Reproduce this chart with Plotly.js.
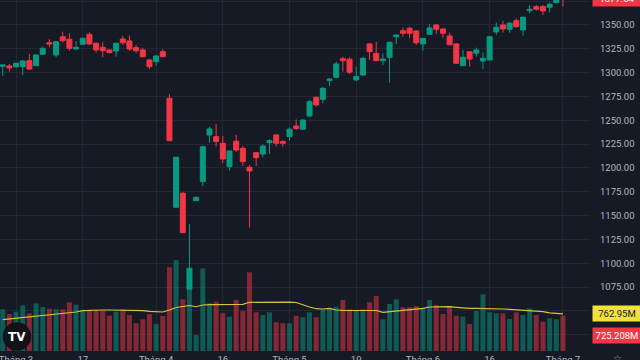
<!DOCTYPE html>
<html>
<head>
<meta charset="utf-8">
<script src="https://cdn.plot.ly/plotly-3.0.1.min.js"></script>
<style>
html,body{margin:0;padding:0;background:#161a25;}
#chart{width:640px;height:360px;}
</style>
</head>
<body>
<div id="chart"></div>
<script>
const dates = [
"2025-02-27","2025-02-28","2025-03-03","2025-03-04","2025-03-05","2025-03-06","2025-03-07",
"2025-03-10","2025-03-11","2025-03-12","2025-03-13","2025-03-14",
"2025-03-17","2025-03-18","2025-03-19","2025-03-20","2025-03-21",
"2025-03-24","2025-03-25","2025-03-26","2025-03-27","2025-03-28",
"2025-03-31","2025-04-01","2025-04-02","2025-04-03","2025-04-04",
"2025-04-08","2025-04-09","2025-04-10","2025-04-11",
"2025-04-14","2025-04-15","2025-04-16","2025-04-17","2025-04-18",
"2025-04-21","2025-04-22","2025-04-23","2025-04-24","2025-04-25",
"2025-04-28","2025-04-29",
"2025-05-05","2025-05-06","2025-05-07","2025-05-08","2025-05-09",
"2025-05-12","2025-05-13","2025-05-14","2025-05-15","2025-05-16",
"2025-05-19","2025-05-20","2025-05-21","2025-05-22","2025-05-23",
"2025-05-26","2025-05-27","2025-05-28","2025-05-29","2025-05-30",
"2025-06-02","2025-06-03","2025-06-04","2025-06-05","2025-06-06",
"2025-06-09","2025-06-10","2025-06-11","2025-06-12","2025-06-13",
"2025-06-16","2025-06-17","2025-06-18","2025-06-19","2025-06-20",
"2025-06-23","2025-06-24","2025-06-25","2025-06-26","2025-06-27",
"2025-06-30","2025-07-01"
];

const openP = [1306.7,1307.0,1306.2,1306.2,1312.5,1307.3,1319.3,1331.4,1318.5,1337.7,
1335.0,1324.8,1329.7,1340.2,1330.8,1326.6,1323.8,1322.7,1335.3,1333.2,
1326.2,1323.8,1313.3,1311.5,1322.0,1273.1,1158.7,1173.4,1072.7,1165.6,
1185.6,1234.6,1232.8,1225.9,1201.3,1228.0,1220.6,1200.7,1216.0,1214.6,
1226.5,1234.6,1227.6,1232.8,1244.0,1240.6,1254.5,1274.1,1272.0,1291.6,
1295.1,1314.6,1314.0,1292.3,1297.5,1330.1,1320.3,1312.5,1316.1,1337.7,
1344.0,1346.5,1343.7,1330.1,1340.2,1350.0,1345.8,1338.5,1330.1,1307.3,
1322.0,1320.3,1312.2,1313.3,1342.7,1350.0,1345.5,1354.5,1344.8,1365.0,
1369.2,1369.2,1368.6,1373.5,1382.0];

const highP = [1308.3,1309.0,1310.5,1313.3,1319.6,1319.0,1327.3,1335.0,1332.5,1343.0,
1341.3,1333.2,1336.7,1342.3,1331.8,1332.2,1324.5,1331.8,1338.5,1338.8,
1329.0,1326.2,1314.0,1317.5,1324.5,1277.6,1211.5,1174.5,1141.2,1169.2,
1222.5,1243.3,1246.0,1233.5,1218.0,1234.6,1223.0,1203.1,1216.5,1224.8,
1230.0,1235.0,1229.3,1242.6,1251.0,1251.0,1271.3,1274.8,1284.6,1294.1,
1311.5,1316.7,1316.1,1306.2,1316.7,1331.4,1332.5,1320.3,1332.5,1339.8,
1347.6,1348.2,1344.8,1336.3,1351.0,1351.0,1346.9,1342.0,1330.8,1323.8,
1322.3,1326.2,1321.0,1338.5,1352.4,1354.2,1353.5,1357.0,1358.7,1371.0,
1371.0,1371.0,1373.4,1380.0,1385.0];

const lowP = [1296.5,1301.0,1305.0,1297.5,1302.8,1307.0,1318.5,1326.6,1316.1,1331.4,
1323.0,1323.8,1329.0,1329.0,1321.0,1316.1,1320.0,1316.7,1329.0,1323.0,
1320.3,1316.1,1303.8,1307.3,1316.1,1228.3,1158.0,1131.8,1072.5,1165.6,
1181.0,1226.5,1222.3,1204.9,1197.1,1217.0,1202.0,1137.3,1202.0,1210.8,
1214.6,1222.3,1222.3,1228.6,1239.8,1240.0,1253.2,1264.3,1267.8,1286.0,
1294.1,1301.0,1298.6,1291.2,1296.5,1313.3,1312.0,1308.0,1289.5,1330.0,
1337.7,1336.0,1329.0,1323.0,1339.5,1340.6,1336.0,1329.0,1309.0,1307.0,
1306.2,1316.7,1303.8,1313.0,1339.5,1341.9,1341.9,1347.2,1338.8,1362.3,
1365.0,1360.5,1362.9,1372.5,1369.4];

const closeP = [1308.0,1305.0,1309.8,1312.2,1303.8,1318.5,1325.5,1330.0,1332.5,1333.5,
1325.5,1326.6,1336.0,1330.0,1323.8,1323.0,1321.0,1330.8,1331.4,1324.8,
1323.0,1316.7,1306.2,1317.5,1316.7,1228.6,1211.2,1132.1,1094.7,1169.2,
1222.3,1240.9,1227.6,1209.4,1217.8,1218.8,1206.6,1196.8,1210.8,1223.0,
1228.6,1225.9,1225.9,1240.6,1241.4,1250.3,1269.5,1266.1,1283.6,1293.3,
1309.1,1312.5,1300.4,1295.8,1315.0,1322.0,1312.5,1314.3,1331.8,1339.5,
1341.3,1341.3,1331.4,1336.0,1346.9,1345.5,1341.3,1329.2,1309.8,1316.1,
1314.3,1323.8,1315.0,1337.7,1347.6,1345.8,1351.8,1348.2,1358.1,1366.5,
1366.5,1364.7,1371.7,1377.0,1377.64];

// volume in millions of shares
const volumeM = [857,760,808,939,775,980,904,869,857,857,
1001,951,843,828,828,828,725,808,857,740,
569,651,760,555,719,1720,1870,1062,1515,329,
1699,980,1013,775,705,1048,822,1617,795,740,
795,590,569,569,725,693,795,693,857,877,
910,1048,857,843,863,1001,1130,651,966,1062,
898,898,925,863,1048,945,760,925,725,705,
555,822,1165,795,775,775,658,795,740,877,
740,602,672,651,725.208];

// volume moving average (millions)
const volumeMA = [643,658,672,684,699,713,725,740,754,767,
781,801,828,836,843,843,843,843,843,843,
836,828,816,808,801,843,894,914,935,910,
945,951,951,956,960,960,960,1001,1003,1007,
1007,1007,1007,1003,997,945,904,869,863,877,
843,836,836,836,836,836,832,795,808,822,
828,843,857,877,904,910,910,910,898,884,
877,877,877,877,869,863,857,849,843,836,
822,808,785,775,762.95];

const tickDates = ["2025-03-03","2025-03-17","2025-04-01","2025-04-16","2025-05-05","2025-05-19","2025-06-02","2025-06-16","2025-07-01"];
const tickLabels = ["Tháng 3","17","Tháng 4","16","Tháng 5","19","Tháng 6","16","Tháng 7"];

const UP = '#089981', DOWN = '#f23645';
const volColors = closeP.map((c,i)=> c >= openP[i] ? 'rgba(8,153,129,0.5)' : 'rgba(242,54,69,0.5)');

const lastClose = closeP[closeP.length-1];
const lastVol = volumeM[volumeM.length-1];
const lastMA = volumeMA[volumeMA.length-1];

const priceRange = [1007.9, 1376.2];
const lastClosePaper = (lastClose - priceRange[0]) / (priceRange[1] - priceRange[0]);

const FONT = 'Roboto, "Noto Sans", sans-serif';
const TXT = '#b2b5be';
const GRID = '#232733';

const traces = [
  {
    type:'bar', x:dates, y:volumeM, yaxis:'y', xaxis:'x',
    marker:{color:volColors, line:{width:0}}, hoverinfo:'skip'
  },
  {
    type:'scatter', mode:'lines', x:dates, y:volumeMA, yaxis:'y', xaxis:'x',
    line:{color:'#d6c13c', width:1.2}, hoverinfo:'skip'
  },
  {
    type:'candlestick', x:dates, open:openP, high:highP, low:lowP, close:closeP,
    xaxis:'x', yaxis:'y2',
    increasing:{line:{color:UP, width:1}, fillcolor:UP},
    decreasing:{line:{color:DOWN, width:1}, fillcolor:DOWN},
    whiskerwidth:0, hoverinfo:'skip'
  }
];

const layout = {
  width:640, height:360,
  margin:{l:0, r:50, t:0, b:9, pad:0},
  paper_bgcolor:'#161a25', plot_bgcolor:'#161a25',
  showlegend:false,
  bargap:0.25, boxgap:0.25, boxgroupgap:0,
  font:{family:FONT, size:9.5, color:TXT},
  xaxis:{
    type:'category', range:[-0.405, 88.05],
    tickmode:'array', tickvals:tickDates, ticktext:tickLabels,
    showgrid:true, gridcolor:GRID, gridwidth:1, zeroline:false,
    ticks:'', showline:false, ticklabelstandoff:1,
    tickfont:{family:FONT, size:9.5, color:TXT},
    rangeslider:{visible:false}, fixedrange:true
  },
  yaxis:{
    range:[0, 7213], showgrid:false, zeroline:false, showticklabels:false,
    ticks:'', fixedrange:true
  },
  yaxis2:{
    overlaying:'y', side:'right', range:priceRange,
    tickmode:'linear', tick0:1000, dtick:25, tickformat:'.2f',
    showgrid:true, gridcolor:GRID, gridwidth:1, zeroline:false,
    ticks:'', ticklabelstandoff:9,
    tickfont:{family:FONT, size:9.5, color:TXT}, fixedrange:true
  },
  shapes:[
    {type:'circle', xref:'paper', yref:'paper', x0:0.0046, x1:0.053, y0:0.0006, y1:0.082,
     fillcolor:'#111318', line:{width:0}, layer:'above'}
  ],
  annotations:[
    {xref:'paper', yref:'paper', x:1, y:lastClosePaper, xanchor:'left', yanchor:'middle', xshift:2,
     text:lastClose.toFixed(2), showarrow:false, bgcolor:DOWN, borderpad:2, width:44,
     font:{family:FONT, size:9.5, color:'#ffffff'}},
    {xref:'paper', yref:'y', x:1, y:lastMA, xanchor:'left', yanchor:'middle', xshift:2,
     text:lastMA.toFixed(2)+'M', showarrow:false, bgcolor:'#f2e13a', borderpad:2, width:44,
     font:{family:FONT, size:9.5, color:'#131722'}},
    {xref:'paper', yref:'y', x:1, y:lastVol, xanchor:'left', yanchor:'middle', xshift:2, yshift:-20,
     text:lastVol.toFixed(3)+'M', showarrow:false, bgcolor:DOWN, borderpad:2, width:44,
     font:{family:FONT, size:9.5, color:'#ffffff'}},
    {xref:'paper', yref:'paper', x:0.0288, y:0.0413, xanchor:'center', yanchor:'middle',
     text:'<b>TV</b>', showarrow:false, font:{family:'"DejaVu Sans", sans-serif', size:12, color:'#ffffff'}},
    {xref:'paper', yref:'paper', x:1.047, y:-0.02, xanchor:'center', yanchor:'middle',
     text:'☆', showarrow:false, font:{family:'"DejaVu Sans", sans-serif', size:10, color:TXT}}
  ]
};

Plotly.newPlot('chart', traces, layout, {displayModeBar:false, staticPlot:true});
</script>
</body>
</html>
